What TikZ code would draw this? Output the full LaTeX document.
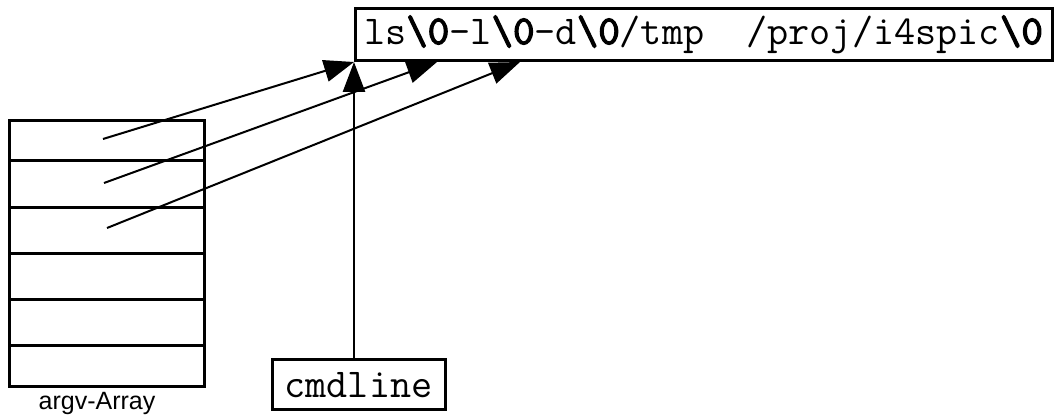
\documentclass[tikz,border=0pt]{standalone}
\usepackage{fontspec}
\setsansfont{Liberation Sans}
\newfontfamily\nulfont{lmmono10-regular}[Extension=.otf,FakeBold=3]
\usetikzlibrary{arrows.meta,calc,positioning}

\newcommand{\nul}{{\nulfont\textbackslash 0}}

\tikzset{
  frame/.style={draw,line width=1.5pt,inner sep=0pt},
  cell/.style={frame,minimum width=97.5pt},
  ptr/.style={line width=1pt,-{Triangle[length=15pt,width=11pt]}}
}

\begin{document}
\begin{tikzpicture}[x=0.5pt,y=-0.5pt]
    \useasboundingbox (0,0) rectangle (1055,416);
    \foreach \i/\top/\bot in {1/121/161,2/161/208,3/208/254,4/254/300,5/300/346,6/346/387} {
      \node[cell,minimum height={(\bot-\top)*0.5pt}] (c\i) at (106.5,{(\top+\bot)/2}) {};
    }
    \node[font=\sffamily\fontsize{12.5}{12.5}\selectfont] (argv) at (97,403) {argv-Array};
    \node[frame,anchor=south west,minimum width=348.5pt,minimum height=26pt,
          inner xsep=4pt,text width=340pt,align=left,
          font=\ttfamily\fontsize{20.5}{20.5}\selectfont] (str) at (354,62)
      {ls\nul-l\nul-d\nul/tmp\phantom{xx}/proj/i4spic\nul};
    \node[frame,minimum width=86.5pt,minimum height=25pt,
          font=\ttfamily\fontsize{20.5}{20.5}\selectfont] (cmd) at (358.5,385) {cmdline};
    \coordinate (a1) at (103,139);
    \coordinate (a2) at (104,183);
    \coordinate (a3) at (107,228);
    \coordinate (t1) at (str.south west);
    \coordinate (t2) at ($(str.south west)+(83,0)$);
    \coordinate (t3) at ($(str.south west)+(166,0)$);
    \foreach \i in {1,2,3} {
      \draw[ptr] (a\i) -- (t\i);
    }
    \draw[ptr,line width=1.4pt] (cmd.north -| t1) -- (t1);
\end{tikzpicture}
\end{document}
